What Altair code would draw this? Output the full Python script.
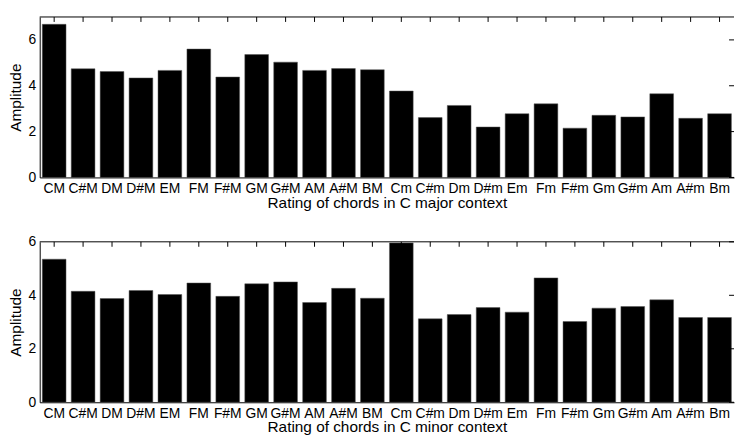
import altair as alt
import pandas as pd

chords = ["CM", "C#M", "DM", "D#M", "EM", "FM", "F#M", "GM", "G#M", "AM", "A#M", "BM",
          "Cm", "C#m", "Dm", "D#m", "Em", "Fm", "F#m", "Gm", "G#m", "Am", "A#m", "Bm"]
major_ctx = [6.68, 4.74, 4.62, 4.34, 4.67, 5.60, 4.38, 5.36, 5.03, 4.67, 4.75, 4.70,
             3.77, 2.61, 3.14, 2.20, 2.78, 3.21, 2.15, 2.71, 2.64, 3.65, 2.58, 2.78]
minor_ctx = [5.35, 4.15, 3.88, 4.18, 4.03, 4.46, 3.96, 4.43, 4.50, 3.73, 4.26, 3.89,
             5.96, 3.12, 3.28, 3.54, 3.37, 4.65, 3.02, 3.52, 3.58, 3.83, 3.17, 3.17]
y_ticks = [0, 2, 4, 6]
titles = ["Rating of chords in C major context", "Rating of chords in C minor context"]
y_max = [7, 6]

W = 701
H = 162
REG = "Liberation Sans, Arial"


def panel(values, title, ymax):
    df = pd.DataFrame({"chord": chords, "amp": values})
    ticks_df = pd.DataFrame({"v": y_ticks})
    xs = alt.Scale(domain=chords, paddingInner=0.18, paddingOuter=0.09)
    ys = alt.Scale(domain=[0, ymax], nice=False)
    x_enc = alt.X("chord:N", sort=chords, scale=xs,
                  axis=alt.Axis(title=title, labelAngle=0, ticks=False, domainColor="black",
                                domainWidth=1, labelColor="black", labelFont=REG,
                                labelFontSize=14, labelPadding=4, labelOverlap=False,
                                bandPosition=0.5, labelAlign="center",
                                titleFont=REG, titleFontSize=15.5, titleFontWeight="normal",
                                titleColor="black", titlePadding=0))
    y_enc = alt.Y("amp:Q", scale=ys,
                  axis=alt.Axis(title="Amplitude", values=y_ticks, ticks=False, grid=False,
                                domainColor="black", domainWidth=1, labelColor="black",
                                labelFont=REG, labelFontSize=14, labelPadding=4,
                                titleFont=REG, titleFontSize=15.5, titleFontWeight="normal",
                                titleColor="black", titlePadding=5))
    bars = alt.Chart(df).mark_bar(color="black", stroke="#555555", strokeWidth=0.5).encode(x=x_enc, y=y_enc)
    top_ticks = alt.Chart(df).mark_rule(color="black", strokeWidth=1).encode(
        x=alt.X("chord:N", sort=chords, scale=xs, bandPosition=0.5),
        y=alt.value(0), y2=alt.value(5))
    right_ticks = alt.Chart(ticks_df).mark_rule(color="black", strokeWidth=1).encode(
        y=alt.Y("v:Q", scale=ys), x=alt.value(W - 5), x2=alt.value(W))
    top_line = alt.Chart(ticks_df.head(1)).mark_rule(color="black", strokeWidth=1).encode(
        y=alt.Y(datum=ymax, type="quantitative", scale=ys), x=alt.value(0), x2=alt.value(W))
    return alt.layer(bars, top_ticks, right_ticks, top_line).properties(width=W, height=H)


chart = alt.vconcat(
    panel(major_ctx, titles[0], y_max[0]),
    panel(minor_ctx, titles[1], y_max[1]),
    spacing=24,
).properties(padding={"left": 0, "top": 6, "right": 0, "bottom": 0}).configure_view(stroke=None)

chart.save("out.html", embed_options={"renderer": "svg", "actions": False})
